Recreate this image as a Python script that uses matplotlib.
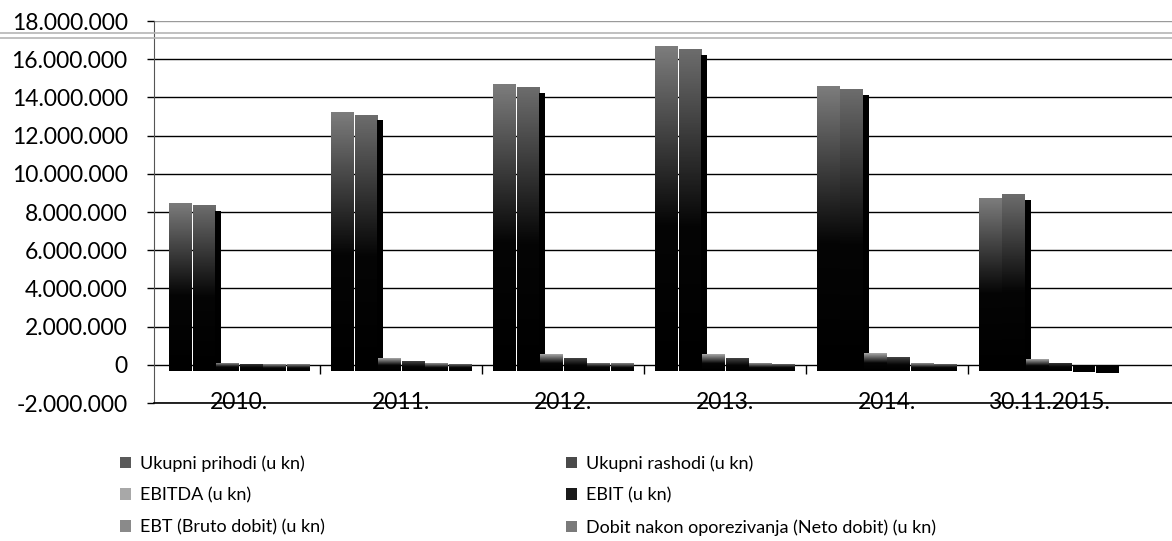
import numpy as np
import matplotlib.pyplot as plt
from matplotlib.colors import LinearSegmentedColormap
from matplotlib.patches import Patch
from matplotlib.lines import Line2D
from matplotlib.ticker import FuncFormatter

plt.rcParams['font.family'] = ['Lato', 'DejaVu Sans']

categories = ["2010.", "2011.", "2012.", "2013.", "2014.", "30.11.2015."]
series_names = [
    "Ukupni prihodi (u kn)",
    "Ukupni rashodi (u kn)",
    "EBITDA (u kn)",
    "EBIT (u kn)",
    "EBT (Bruto dobit) (u kn)",
    "Dobit nakon oporezivanja (Neto dobit) (u kn)",
]
prihodi = [8.5e6, 13.25e6, 14.7e6, 16.7e6, 14.6e6, 8.75e6]
rashodi = [8.35e6, 13.1e6, 14.55e6, 16.55e6, 14.45e6, 8.95e6]
ebitda = [0.12e6, 0.37e6, 0.58e6, 0.58e6, 0.63e6, 0.3e6]
ebit = [0.07e6, 0.2e6, 0.35e6, 0.35e6, 0.4e6, 0.12e6]
ebt = [0.05e6, 0.1e6, 0.12e6, 0.1e6, 0.1e6, -0.05e6]
neto = [0.03e6, 0.07e6, 0.08e6, 0.07e6, 0.07e6, -0.15e6]

values = [prihodi, rashodi, ebitda, ebit, ebt, neto]
top_colors = ["#7c7c7c", "#6c6c6c", "#a8a8a8", "#444444", "#909090", "#858585"]
legend_colors = ["#5a5a5a", "#4a4a4a", "#a8a8a8", "#1a1a1a", "#8a8a8a", "#7a7a7a"]

depth = -0.3e6     # 3d floor offset of the front faces
width = 0.14
step = 0.145

fig = plt.figure(figsize=(11.72, 5.41), dpi=100)
ax = fig.add_axes([0.1314, 0.255, 0.8686, 0.706])
ax.set_ylim(-2e6, 18e6)

x = np.arange(len(categories))
grad = np.linspace(0, 1, 200).reshape(-1, 1)

for i, (vals, top) in enumerate(zip(values, top_colors)):
    cmap = LinearSegmentedColormap.from_list(
        f"s{i}", [(0, "#000000"), (0.45, "#050505"), (1, top)])
    for xi, v in zip(x, vals):
        xc = xi + (i - 2.5) * step
        lo = min(v, 0) + depth
        hi = max(v, 0)
        if v < 0:
            ax.bar(xc, hi - lo, width, bottom=lo, color="black", zorder=3)
            continue
        bar = ax.bar(xc, hi - lo, width, bottom=lo, color="none", zorder=3)[0]
        im = ax.imshow(grad, cmap=cmap, origin="lower", aspect="auto",
                       extent=(xc - width / 2, xc + width / 2, lo, hi),
                       zorder=3)
        im.set_clip_path(bar)
    if i == 1:
        # side face of the front column pair
        for xi, v in zip(x, vals):
            xc = xi + (i - 2.5) * step + width / 2 + 0.018
            ax.bar(xc, v - 0.3e6 - depth, 0.036, bottom=depth,
                   color="black", zorder=3)

ax.set_xlim(-0.527, 5.76)
ax.set_ylim(-2e6, 18e6)

# category separators on the floor
ax.vlines(x[:-1] + 0.5, -0.5e6, 0, color="black", lw=1, zorder=2)

ax.set_yticks(np.arange(-2e6, 18e6 + 1, 2e6))
ax.yaxis.set_major_formatter(FuncFormatter(
    lambda v, p: f"{int(v):,}".replace(",", ".")))
ax.grid(axis="y", color="black", lw=1, zorder=1)
ax.yaxis.get_gridlines()[-1].set_color("#9a9a9a")
ax.set_xticks(x)
ax.set_xticklabels(categories)
ax.tick_params(axis="y", length=5, width=1, pad=14, labelsize=16.5)
ax.tick_params(axis="x", length=0, pad=-8, labelsize=16.5)
for s in ["top", "right"]:
    ax.spines[s].set_visible(False)
ax.spines["left"].set_color("#555555")
ax.spines["bottom"].set_linewidth(1.2)

# grey back-wall edge of the 3d chart
for yy in (0.939, 0.930):
    fig.add_artist(Line2D([0, 1], [yy, yy], color="#b5b5b5", lw=1.2,
                          transform=fig.transFigure))

handles = [Patch(facecolor=c, edgecolor="none", hatch="....") for c in legend_colors]
leg_kw = dict(loc="upper left", frameon=False, fontsize=13,
              handlelength=0.6, handleheight=0.6, handletextpad=0.5,
              labelspacing=0.86, borderpad=0)
fig.legend([handles[0], handles[2], handles[4]],
           [series_names[0], series_names[2], series_names[4]],
           bbox_to_anchor=(0.095, 0.175), **leg_kw)
fig.legend([handles[1], handles[3], handles[5]],
           [series_names[1], series_names[3], series_names[5]],
           bbox_to_anchor=(0.475, 0.175), **leg_kw)

fig.savefig("out.png", dpi=100)
